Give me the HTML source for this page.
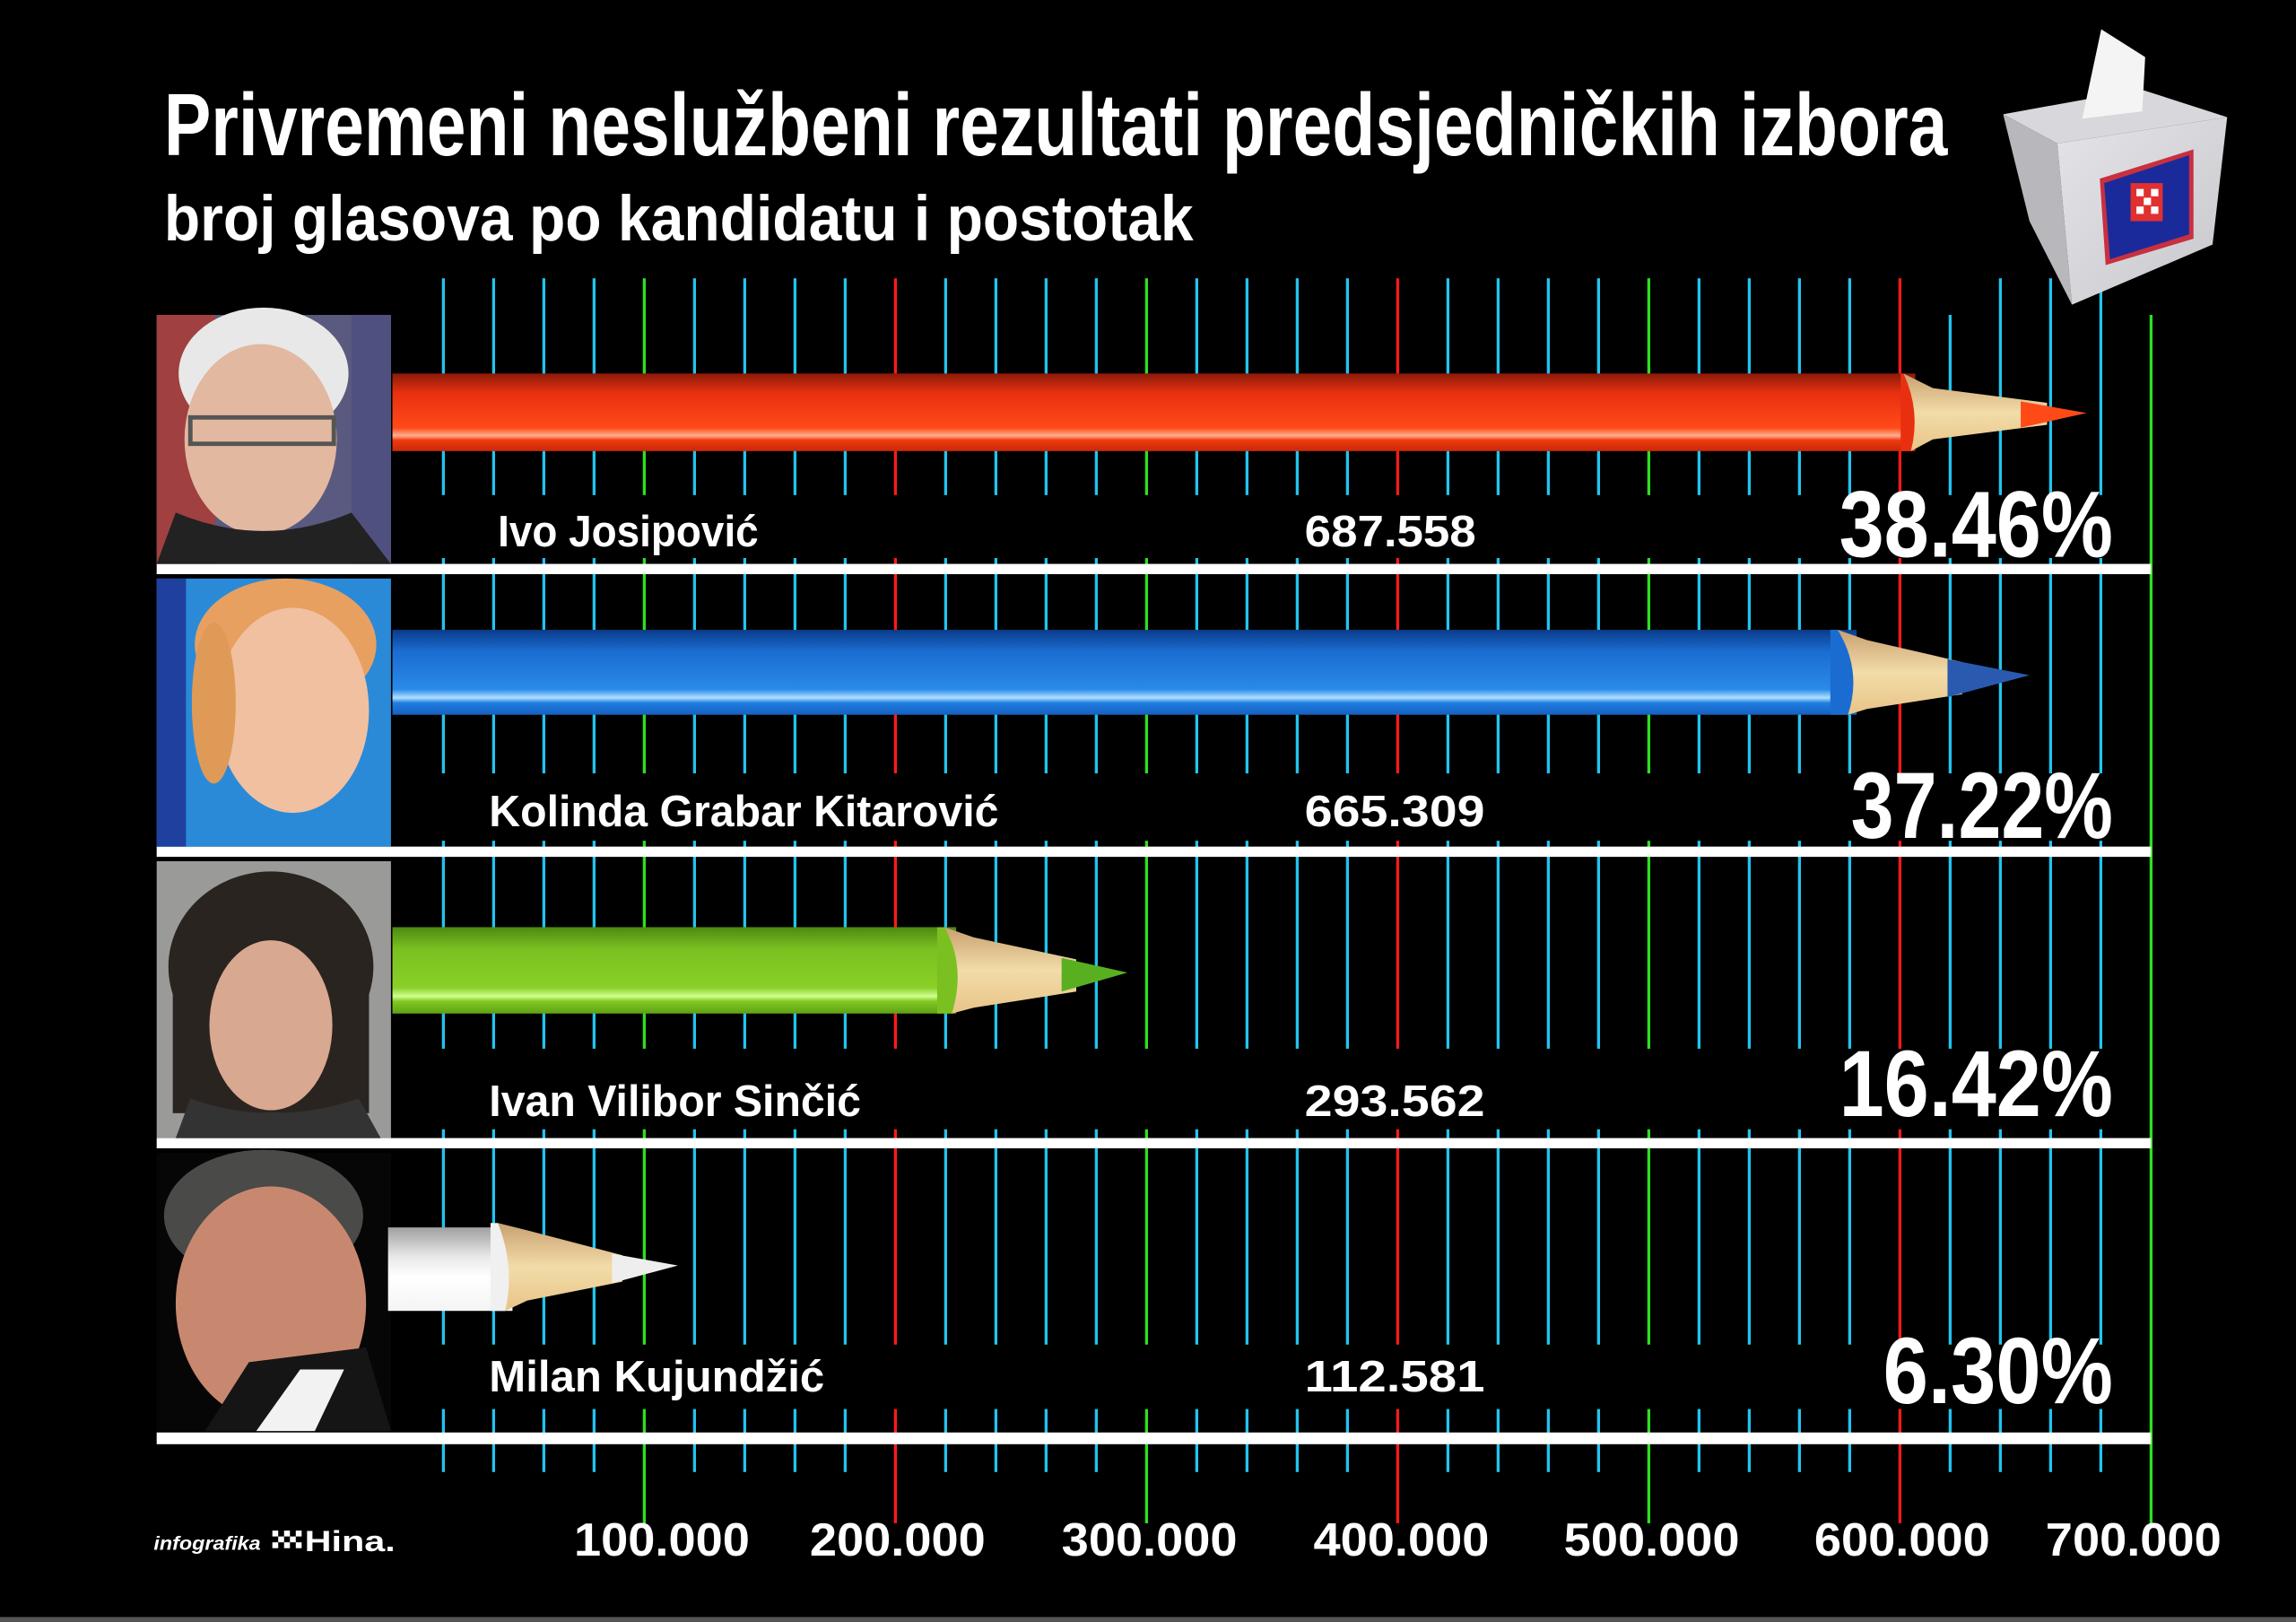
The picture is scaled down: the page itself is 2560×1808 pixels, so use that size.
<!DOCTYPE html>
<html><head><meta charset="utf-8"><style>
html,body{margin:0;padding:0;background:#000;}
svg{display:block;}
text{font-family:"Liberation Sans",sans-serif;font-weight:bold;fill:#fff;}
</style></head><body>
<svg id="s" width="2560" height="1808" viewBox="0 0 1568 1107.4" xmlns="http://www.w3.org/2000/svg">
<defs>
<linearGradient id="gr" x1="0" y1="0" x2="0" y2="1"><stop offset="0" stop-color="#8a1a08"/><stop offset="0.25" stop-color="#e83010"/><stop offset="0.7" stop-color="#ff4a18"/><stop offset="0.8" stop-color="#ffb090"/><stop offset="0.86" stop-color="#f03a10"/><stop offset="1" stop-color="#c82808"/></linearGradient>
<linearGradient id="gb" x1="0" y1="0" x2="0" y2="1"><stop offset="0" stop-color="#0a3c8a"/><stop offset="0.25" stop-color="#1a6cd0"/><stop offset="0.7" stop-color="#2a8ae8"/><stop offset="0.8" stop-color="#b0e0ff"/><stop offset="0.86" stop-color="#1f7ee0"/><stop offset="1" stop-color="#1660c0"/></linearGradient>
<linearGradient id="gg" x1="0" y1="0" x2="0" y2="1"><stop offset="0" stop-color="#4c8a10"/><stop offset="0.25" stop-color="#7ac020"/><stop offset="0.7" stop-color="#8ad028"/><stop offset="0.8" stop-color="#d0ff90"/><stop offset="0.86" stop-color="#80c820"/><stop offset="1" stop-color="#60a018"/></linearGradient>
<linearGradient id="gw" x1="0" y1="0" x2="0" y2="1"><stop offset="0" stop-color="#a0a0a0"/><stop offset="0.35" stop-color="#e8e8e8"/><stop offset="0.6" stop-color="#ffffff"/><stop offset="1" stop-color="#f4f4f4"/></linearGradient>
<linearGradient id="wood" x1="0" y1="0" x2="0" y2="1"><stop offset="0" stop-color="#c8a070"/><stop offset="0.5" stop-color="#f2dca8"/><stop offset="1" stop-color="#e8c488"/></linearGradient>
<linearGradient id="boxf" x1="0" y1="0" x2="1" y2="1"><stop offset="0" stop-color="#e4e4e8"/><stop offset="1" stop-color="#c8c8cc"/></linearGradient>
</defs>
<rect width="1568" height="1107.4" fill="#000"/>
<g id="grid"></g>
<!-- text gaps -->
<rect x="280" y="338" width="1160" height="43" fill="#000"/>
<rect x="280" y="528" width="1160" height="46" fill="#000"/>
<rect x="280" y="716" width="1160" height="55" fill="#000"/>
<rect x="280" y="918" width="1160" height="44" fill="#000"/>

<!-- separators -->
<rect x="107" y="385" width="1362" height="7" fill="#fff"/>
<rect x="107" y="578" width="1362" height="7" fill="#fff"/>
<rect x="107" y="777" width="1362" height="7" fill="#fff"/>
<rect x="107" y="978" width="1362" height="8" fill="#fff"/>

<!-- photos -->
<g>
<rect x="107" y="215" width="160" height="170" fill="#5a5a80"/>
<rect x="107" y="215" width="40" height="170" fill="#a04040"/>
<rect x="240" y="215" width="27" height="170" fill="#505080"/>
<ellipse cx="180" cy="255" rx="58" ry="45" fill="#e8e8e8"/>
<ellipse cx="178" cy="300" rx="52" ry="65" fill="#e2b8a0"/>
<path d="M107 385 L120 350 Q180 375 240 350 L267 385 Z" fill="#222"/>
<rect x="130" y="285" width="98" height="18" fill="none" stroke="#555" stroke-width="3"/>
</g>
<g>
<rect x="107" y="395" width="160" height="183" fill="#2a8ad8"/>
<rect x="107" y="395" width="20" height="183" fill="#2040a0"/>
<ellipse cx="195" cy="440" rx="62" ry="45" fill="#e8a060"/>
<ellipse cx="200" cy="485" rx="52" ry="70" fill="#f0c0a0"/>
<ellipse cx="146" cy="480" rx="15" ry="55" fill="#e09a58"/>
</g>
<g>
<rect x="107" y="588" width="160" height="189" fill="#9a9a98"/>
<ellipse cx="185" cy="660" rx="70" ry="65" fill="#2a2420"/>
<rect x="118" y="650" width="134" height="110" fill="#2a2420"/>
<ellipse cx="185" cy="700" rx="42" ry="58" fill="#d8a890"/>
<path d="M120 777 L130 750 Q185 770 245 750 L260 777 Z" fill="#333"/>
</g>
<g>
<rect x="107" y="787" width="160" height="190" fill="#060606"/>
<ellipse cx="180" cy="830" rx="68" ry="45" fill="#4a4a48"/>
<ellipse cx="185" cy="890" rx="65" ry="80" fill="#c88870"/>
<path d="M140 977 L170 930 L250 920 L267 977 Z" fill="#151515"/>
<path d="M175 977 L205 935 L235 935 L215 977 Z" fill="#f2f2f2"/>
</g>

<!-- pencils -->
<g>
<rect x="268" y="255" width="1040" height="53" fill="url(#gr)"/>
<path d="M1300 255 L1320 265 L1398 275 L1398 290 L1320 300 L1305 308 Z" fill="url(#wood)"/>
<path d="M1300 255 Q1312 281 1305 308 L1298 308 L1298 255Z" fill="#e83010"/>
<path d="M1380 274 L1425 282 L1380 292 Z" fill="#ff4a18"/>
</g>
<g>
<rect x="268" y="430" width="1000" height="58" fill="url(#gb)"/>
<path d="M1255 430 L1275 437 L1340 452 L1340 474 L1275 484 L1262 488 Z" fill="url(#wood)"/>
<path d="M1255 430 Q1272 458 1262 488 L1250 488 L1250 430Z" fill="#1a6cd0"/>
<path d="M1330 450 L1386 461 L1330 476 Z" fill="#2a5ab0"/>
</g>
<g>
<rect x="268" y="633" width="385" height="59" fill="url(#gg)"/>
<path d="M645 633 L665 640 L735 655 L735 677 L665 688 L650 692 Z" fill="url(#wood)"/>
<path d="M645 633 Q660 660 650 692 L640 692 L640 633Z" fill="#7ac020"/>
<path d="M725 654 L770 664 L725 677 Z" fill="#58b020"/>
</g>
<g>
<rect x="265" y="838" width="85" height="57" fill="url(#gw)"/>
<path d="M340 835 L360 840 L425 857 L425 875 L360 888 L345 895 Z" fill="url(#wood)"/>
<path d="M340 835 Q352 865 345 895 L335 895 L335 835Z" fill="#f0f0f0"/>
<path d="M418 856 L463 864 L418 876 Z" fill="#eeeeee"/>
</g>

<!-- title -->
<text x="112" y="106" font-size="60" textLength="1218" lengthAdjust="spacingAndGlyphs">Privremeni neslužbeni rezultati predsjedničkih izbora</text>
<text x="112" y="164" font-size="44" textLength="703" lengthAdjust="spacingAndGlyphs">broj glasova po kandidatu i postotak</text>

<!-- ballot box -->
<g>
<polygon points="1368,78 1462,61 1521,80 1405,98" fill="#d8d8dc"/>
<polygon points="1368,78 1405,98 1415,208 1386,151" fill="#b8b8bc"/>
<polygon points="1405,98 1521,80 1511,167 1415,208" fill="url(#boxf)"/>
<polygon points="1434,122 1498,102 1498,163 1438,181" fill="#c83040"/>
<polygon points="1437,125 1495,106 1495,160 1441,177" fill="#1a2a9a"/>
<rect x="1455" y="125" width="22" height="26" fill="#e03030"/>
<rect x="1459" y="129" width="5" height="5" fill="#fff"/><rect x="1469" y="129" width="5" height="5" fill="#fff"/><rect x="1464" y="135" width="5" height="5" fill="#fff"/><rect x="1459" y="141" width="5" height="5" fill="#fff"/><rect x="1469" y="141" width="5" height="5" fill="#fff"/>
<polygon points="1435,20 1465,39 1463,76 1422,81" fill="#f4f4f4"/>
</g>

<!-- labels -->
<g font-size="30">
<text x="340" y="373" textLength="178" lengthAdjust="spacingAndGlyphs">Ivo Josipović</text>
<text x="891" y="373" textLength="117" lengthAdjust="spacingAndGlyphs">687.558</text>
<text x="334" y="564" textLength="348" lengthAdjust="spacingAndGlyphs">Kolinda Grabar Kitarović</text>
<text x="891" y="564" textLength="123" lengthAdjust="spacingAndGlyphs">665.309</text>
<text x="334" y="762" textLength="254" lengthAdjust="spacingAndGlyphs">Ivan Vilibor Sinčić</text>
<text x="891" y="762" textLength="123" lengthAdjust="spacingAndGlyphs">293.562</text>
<text x="334" y="950" textLength="229" lengthAdjust="spacingAndGlyphs">Milan Kujundžić</text>
<text x="891" y="950" textLength="123" lengthAdjust="spacingAndGlyphs">112.581</text>
</g>
<g font-size="64">
<text x="1256" y="380" textLength="187" lengthAdjust="spacingAndGlyphs">38.46%</text>
<text x="1264" y="572" textLength="179" lengthAdjust="spacingAndGlyphs">37.22%</text>
<text x="1256" y="762" textLength="187" lengthAdjust="spacingAndGlyphs">16.42%</text>
<text x="1286" y="958" textLength="157" lengthAdjust="spacingAndGlyphs">6.30%</text>
</g>
<g font-size="32">
<text x="392" y="1062" textLength="120" lengthAdjust="spacingAndGlyphs">100.000</text>
<text x="553" y="1062" textLength="120" lengthAdjust="spacingAndGlyphs">200.000</text>
<text x="725" y="1062" textLength="120" lengthAdjust="spacingAndGlyphs">300.000</text>
<text x="897" y="1062" textLength="120" lengthAdjust="spacingAndGlyphs">400.000</text>
<text x="1068" y="1062" textLength="120" lengthAdjust="spacingAndGlyphs">500.000</text>
<text x="1239" y="1062" textLength="120" lengthAdjust="spacingAndGlyphs">600.000</text>
<text x="1397" y="1062" textLength="120" lengthAdjust="spacingAndGlyphs">700.000</text>
</g>
<text x="105" y="1058" font-size="13" font-style="italic" textLength="73" lengthAdjust="spacingAndGlyphs">infografika</text>
<g fill="#fff"><rect x="186" y="1045" width="4" height="4"/><rect x="194" y="1045" width="4" height="4"/><rect x="190" y="1049" width="4" height="4"/><rect x="198" y="1049" width="4" height="4"/><rect x="186" y="1053" width="4" height="4"/><rect x="194" y="1053" width="4" height="4"/><rect x="202" y="1045" width="4" height="4"/><rect x="202" y="1053" width="4" height="4"/></g>
<text x="208" y="1059" font-size="20" font-weight="normal" textLength="62" lengthAdjust="spacingAndGlyphs">Hina.</text>
<rect x="0" y="1104" width="1568" height="3.4" fill="#555"/>
</svg>
<script>
var g=document.getElementById('grid'),ns='http://www.w3.org/2000/svg';
for(var k=1;k<=35;k++){
 var x=268.5+34.3*k,c='#22c4f0',y1=190,y2=1005,w=2;
 if(k%5==0){c=((k/5)%2==1)?'#2ee020':'#ff1a1a';y2=1040;}
 if(k==31||k==35)y1=215;
 var l=document.createElementNS(ns,'rect');
 l.setAttribute('x',x-w/2);l.setAttribute('y',y1);l.setAttribute('width',w);l.setAttribute('height',y2-y1);l.setAttribute('fill',c);
 g.appendChild(l);
}
</script>
</body></html>
